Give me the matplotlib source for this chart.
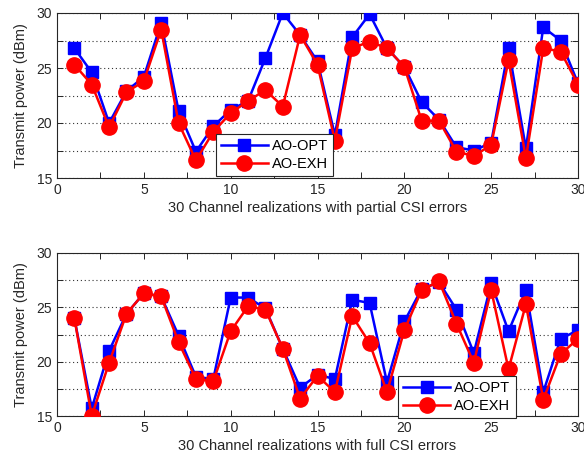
import numpy as np
import matplotlib
matplotlib.use("Agg")
import matplotlib.pyplot as plt
from matplotlib.ticker import MultipleLocator

plt.rcParams['font.family'] = ['Liberation Sans', 'DejaVu Sans']

channels = np.arange(1, 31)

# partial CSI errors
opt_partial = [26.8, 24.6, 20.0, 22.9, 24.2, 29.1, 21.1, 17.4, 19.7, 21.2,
               22.0, 25.9, 30.0, 28.0, 25.6, 18.9, 27.8, 29.9, 26.8, 25.1,
               21.9, 20.3, 17.8, 17.5, 18.2, 26.8, 17.7, 28.7, 27.5, 23.6]
exh_partial = [25.3, 23.5, 19.6, 22.8, 23.8, 28.5, 20.0, 16.6, 19.2, 20.9,
               22.0, 23.0, 21.5, 28.0, 25.3, 18.4, 26.8, 27.4, 26.8, 25.1,
               20.2, 20.2, 17.4, 17.0, 18.0, 25.7, 16.8, 26.8, 26.5, 23.5]

# full CSI errors
opt_full = [24.0, 15.7, 21.0, 24.4, 26.3, 26.0, 22.4, 18.6, 18.4, 25.9,
            25.9, 24.9, 21.2, 17.6, 18.8, 18.4, 25.7, 25.4, 18.1, 23.7,
            26.7, 27.3, 24.8, 20.8, 27.2, 22.8, 26.6, 17.2, 22.1, 22.9]
exh_full = [24.0, 15.0, 19.9, 24.4, 26.3, 26.0, 21.8, 18.4, 18.2, 22.8,
            25.1, 24.8, 21.2, 16.6, 18.7, 17.2, 24.2, 21.7, 17.2, 22.9,
            26.6, 27.4, 23.5, 19.9, 26.6, 19.3, 25.3, 16.5, 20.7, 22.1]

xlabels = ["30 Channel realizations with partial CSI errors",
           "30 Channel realizations with full CSI errors"]

fig = plt.figure(figsize=(5.84, 4.70), dpi=100)
ax1 = fig.add_axes([57/584, 1 - 178/470, 521/584, 165/470])
ax2 = fig.add_axes([57/584, 1 - 416/470, 521/584, 163/470])

legend_pos = [(0.305, 0.012), (0.655, -0.012)]

for ax, opt, exh, xl, lp in zip([ax1, ax2], [opt_partial, opt_full],
                                 [exh_partial, exh_full], xlabels, legend_pos):
    ax.plot(channels, opt, color='blue', lw=1.8, marker='s', ms=9,
            label='AO-OPT', zorder=3)
    ax.plot(channels, exh, color='red', lw=1.8, marker='o', ms=11,
            label='AO-EXH', zorder=4)
    ax.set_xlim(0, 30)
    ax.set_ylim(15, 30)
    ax.xaxis.set_major_locator(MultipleLocator(5))
    ax.xaxis.set_minor_locator(MultipleLocator(2.5))
    ax.yaxis.set_major_locator(MultipleLocator(5))
    ax.yaxis.set_minor_locator(MultipleLocator(2.5))
    ax.tick_params(which='both', direction='in', top=True, right=True,
                   length=4, width=0.7, labelsize=10, colors='#262626')
    ax.grid(True, axis='y', which='both', linestyle=(0, (1, 2.5)),
            color='#333333', lw=0.8)
    for s in ax.spines.values():
        s.set_color('#262626')
        s.set_linewidth(0.8)
    ax.set_xlabel(xl, fontsize=10.5, color='#262626', labelpad=3)
    ax.set_ylabel('Transmit power (dBm)', fontsize=10.5, color='#262626',
                  labelpad=6)
    leg = ax.legend(loc='lower left', bbox_to_anchor=lp, fontsize=10.5,
                    fancybox=False, framealpha=1, edgecolor='#262626',
                    handlelength=3.2, borderpad=0.35, labelspacing=0.25,
                    handletextpad=0.3, borderaxespad=0)
    leg.get_frame().set_linewidth(0.8)
    leg.set_zorder(10)

fig.savefig('out.png', dpi=100)
